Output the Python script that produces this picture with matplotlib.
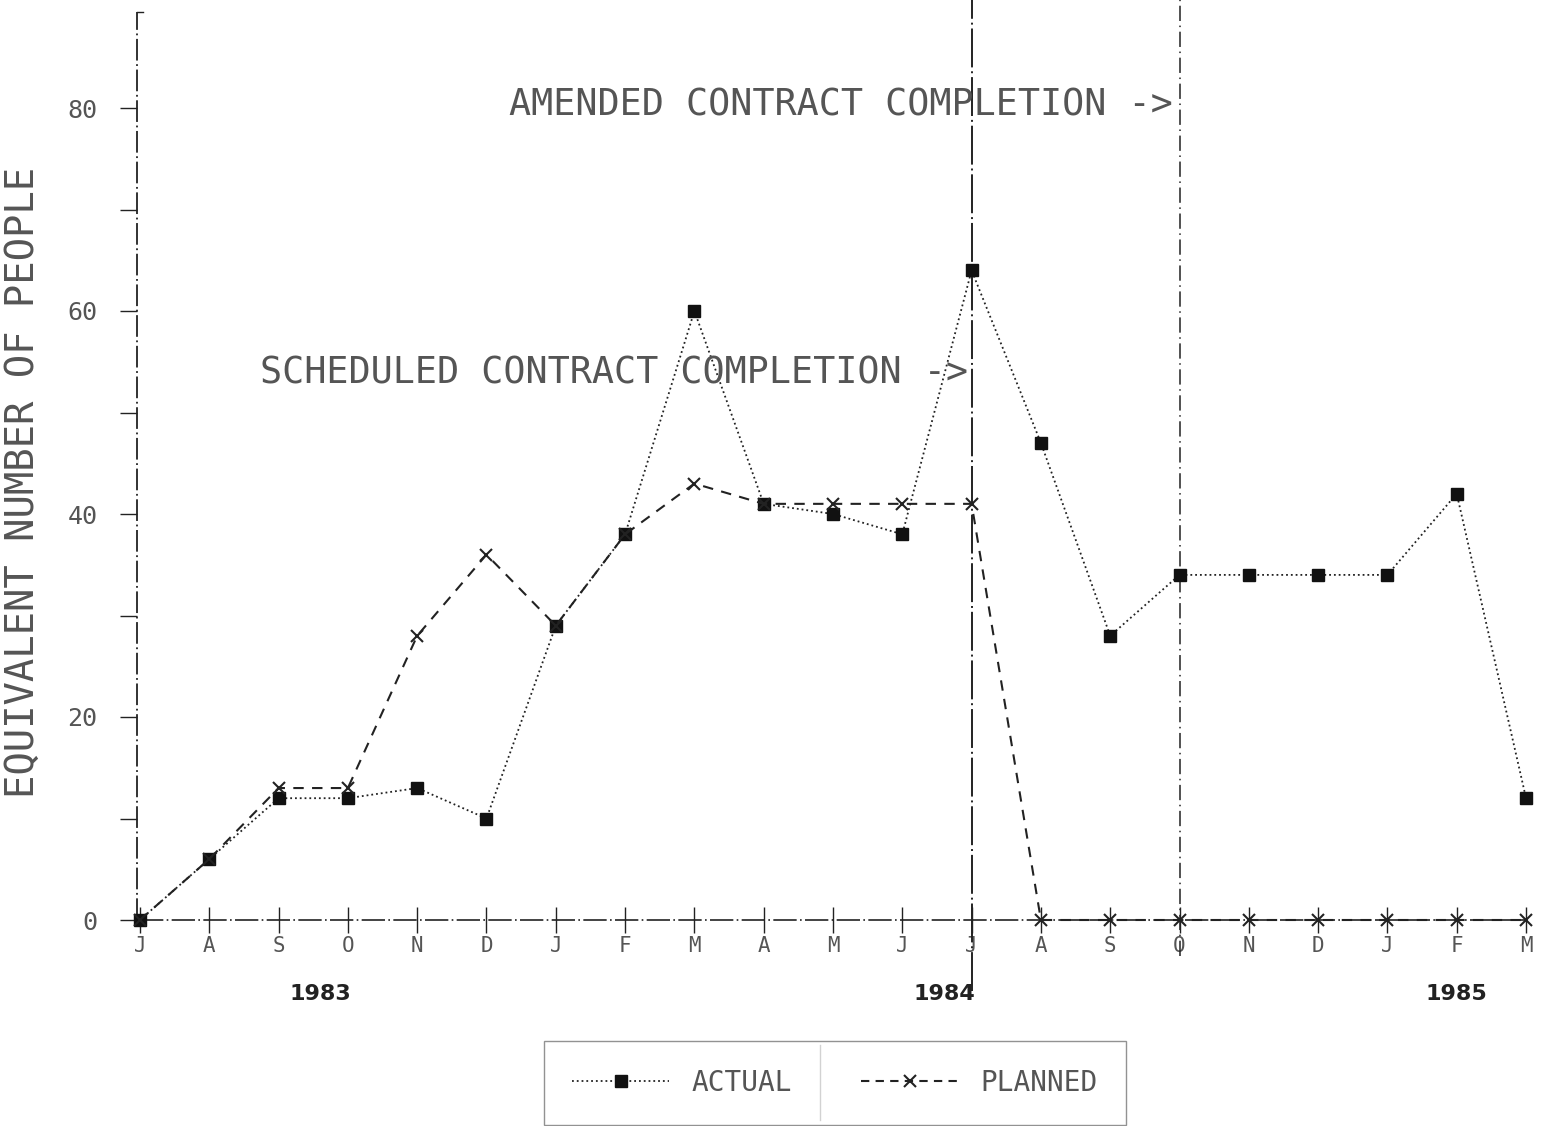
import matplotlib
matplotlib.use("Agg")
import matplotlib.pyplot as plt
from matplotlib.lines import Line2D

months = ["J", "A", "S", "O", "N", "D", "J", "F", "M", "A", "M", "J",
          "J", "A", "S", "O", "N", "D", "J", "F", "M"]
actual = [0, 6, 12, 12, 13, 10, 29, 38, 60, 41, 40, 38,
          64, 47, 28, 34, 34, 34, 34, 42, 12]
planned = [0, 6, 13, 13, 28, 36, 29, 38, 43, 41, 41, 41,
           41, 0, 0, 0, 0, 0, 0, 0, 0]
years = ["1983", "1984", "1985"]
year_pos = [2.6, 11.6, 19.0]
y_ticks = [0, 20, 40, 60, 80]
scheduled_idx = 12
amended_idx = 15

W, H = 1547, 1126
fig = plt.figure(figsize=(W / 100, H / 100), dpi=100)
ax = fig.add_axes([136.5 / W, (H - 940.3) / H, 1393 / W, 933.8 / H])
x = list(range(len(months)))
ax.set_xlim(-0.05, 20.05)
ax.set_ylim(-2, 90)
for s in ax.spines.values():
    s.set_visible(False)

ink = "#222222"
txt = "#555555"
mono = "DejaVu Sans Mono"

# axes lines
ax.plot([-0.04, -0.04], [0, 89.5], color=ink, lw=1.3, ls=(0, (12, 2, 1, 2)), clip_on=False)
ax.plot([-0.04, 0.05], [89.5, 89.5], color=ink, lw=1.0, clip_on=False)
ax.plot([0, 20], [0, 0], color=ink, lw=1.2, ls=(0, (14, 2, 1, 2)), clip_on=False)
# month tick crosses
ax.plot(x, [0] * len(x), ls="none", marker="|", ms=19, mew=1.0, color=ink, clip_on=False)

# ticks
ax.set_xticks(x)
ax.set_xticklabels(months, fontfamily=mono, fontsize=15, color=txt)
ax.tick_params(axis="x", length=0, pad=-3)
ax.set_yticks(range(0, 90, 10))
ax.set_yticklabels([str(v) if v in y_ticks else "" for v in range(0, 90, 10)],
                   fontfamily=mono, fontsize=18, color=txt)
ax.tick_params(axis="y", direction="out", length=12, width=1, color=ink, pad=16)

# vertical completion lines
ax.plot([scheduled_idx, scheduled_idx], [-7, 91], color=ink, lw=1.4,
        ls=(0, (20, 2, 1, 2)), clip_on=False)
ax.plot([amended_idx, amended_idx], [-3.5, 91], color=ink, lw=1.1,
        ls=(0, (10, 3, 1, 3)), clip_on=False)

# series
ax.plot(x, actual, color=ink, ls=":", lw=1.3, marker="s", ms=8, mfc="#111111",
        mec="#111111", clip_on=False, zorder=3)
ax.plot(x, planned, color=ink, ls=(0, (5, 4)), lw=1.5, marker="x", ms=9, mew=1.5,
        clip_on=False, zorder=3)

# annotations
ax.text(amended_idx - 0.1, 80.3, "AMENDED CONTRACT COMPLETION ->", ha="right", va="center",
        fontfamily=mono, fontsize=26.5, color=txt)
ax.text(scheduled_idx - 0.05, 53.9, "SCHEDULED CONTRACT COMPLETION ->", ha="right", va="center",
        fontfamily=mono, fontsize=26.5, color=txt)

# year labels
for yl, yp in zip(years, year_pos):
    ax.text(yp, -7.3, yl, ha="center", va="center", fontsize=16, fontweight="bold",
            color=ink, fontfamily="DejaVu Sans")

ax.set_ylabel("EQUIVALENT NUMBER OF PEOPLE", fontfamily=mono, fontsize=28, color=txt)
ax.yaxis.set_label_coords(-0.068, 0.49)

# legend
handles = [Line2D([], [], color=ink, ls=":", lw=1.3, marker="s", ms=8, mfc="#111111", mec="#111111"),
           Line2D([], [], color=ink, ls=(0, (4, 3)), lw=1.5, marker="x", ms=9, mew=1.5)]
leg = fig.legend(handles, ["ACTUAL", "PLANNED"], ncol=2, loc="center",
                 bbox_to_anchor=(835 / W, 1 - 1083 / H), frameon=True, fancybox=False,
                 prop={"family": mono, "size": 20}, labelcolor=txt,
                 edgecolor="#777777", handlelength=3.5, columnspacing=2.5,
                 borderpad=1.0, handletextpad=0.8)
leg.get_frame().set_linewidth(1.0)
fig.add_artist(Line2D([820 / W, 820 / W], [1 - 1045 / H, 1 - 1120 / H], color=ink, lw=1))

fig.savefig("out.png", dpi=100, facecolor="white")
